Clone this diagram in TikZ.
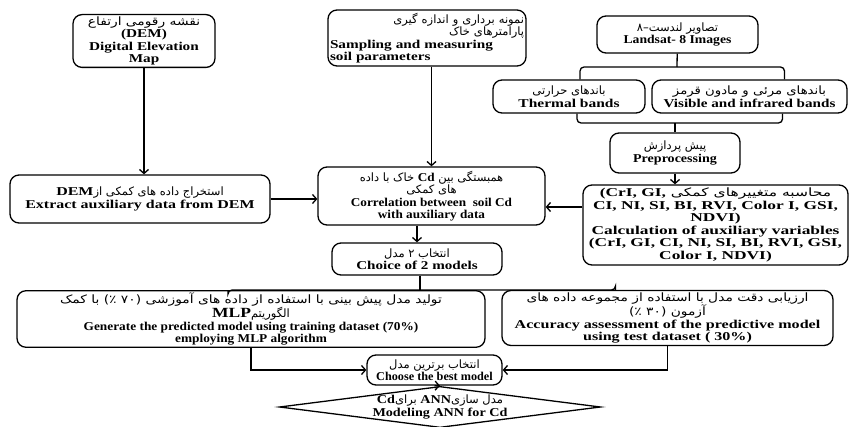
\documentclass[tikz,border=0pt]{standalone}
\usepackage{fontspec}
\setmainfont{Liberation Serif}
\newfontfamily\fa[Script=Arabic]{DejaVu Sans}
\TeXXeTstate=1
\usetikzlibrary{shapes.geometric,arrows.meta}
\newcommand\enw[2][1.25]{\beginL{\rmfamily\bfseries\fontsize{12}{12.5}\selectfont\addfontfeatures{FakeStretch=#1}#2}\endL}
\newcommand\fatext[2][1]{{\fa\mdseries\fontsize{11.5}{12.5}\selectfont\addfontfeatures{FakeStretch=#1}\beginR #2\endR}}
\begin{document}
\begin{tikzpicture}[x=1pt,y=-1pt,
  flowbox/.style={draw, line width=1.3pt, rounded corners=9pt, align=center, inner sep=2pt,
    font=\bfseries\fontsize{12}{12.5}\selectfont\addfontfeatures{FakeStretch=#1}},
  flowbox/.default=1.25,
  arr/.style={line width=1.3pt, -{Straight Barb[length=4pt,width=9pt]}},
  link/.style={line width=1.3pt, rounded corners=4pt}]

\useasboundingbox (0,0) rectangle (851,427);

\node[flowbox=1.27, minimum width=142pt, minimum height=52pt] (dem) at (144,41)
  {\fatext[1.2]{نقشه رقومی ارتفاع}\\(DEM)\\Digital Elevation\\Map};
\node[flowbox=1.27, text width=194pt, minimum height=56pt, align=left] (samp) at (427,38)
  {\makebox[\linewidth][r]{\fatext{نمونه برداری و اندازه گیری}}\\
   \makebox[\linewidth][r]{\fatext{پارامترهای خاک}}\\
   Sampling and measuring\\soil parameters};
\node[flowbox=1.14, minimum width=161pt, minimum height=37pt] (landsat) at (677.5,34.5)
  {\fatext{تصاویر لندست–۸}\\Landsat- 8 Images};
\node[flowbox=1.29, minimum width=152pt, minimum height=33pt] (thermal) at (569,96.5)
  {\fatext{باندهای حرارتی}\\Thermal bands};
\node[flowbox=1.26, minimum width=195pt, minimum height=33pt] (visible) at (749.5,96.5)
  {\fatext[1.15]{باندهای مرئی و مادون قرمز}\\Visible and infrared bands};
\node[flowbox=1.17, minimum width=130pt, minimum height=40pt] (prep) at (675,153)
  {\fatext{پیش پردازش}\\Preprocessing};
\node[flowbox=1.45, minimum width=265pt, minimum height=80pt] (calc) at (715.5,225)
  {\fatext[1.35]{محاسبه متغییرهای کمکی \enw[1.45]{(CrI, GI,}}\\CI, NI, SI, BI, RVI, Color I, GSI,\\NDVI)\\
   Calculation of auxiliary variables\\(CrI, GI, CI, NI, SI, BI, RVI, GSI,\\Color I, NDVI)};
\node[flowbox=1.33, minimum width=260pt, minimum height=48pt] (extract) at (140,199)
  {\fatext{استخراج داده های کمکی از\enw[1.33]{DEM}}\\Extract auxiliary data from DEM};
\node[flowbox=1.1, minimum width=227pt, minimum height=58pt] (corr) at (431.5,196)
  {\fatext{همبستگی بین \enw[1.1]{Cd} خاک با داده}\\\fatext{های کمکی}\\
   Correlation between~ soil Cd\\with auxiliary data};
\node[flowbox=1.26, minimum width=170pt, minimum height=32pt] (choice) at (417,259)
  {\fatext{انتخاب ۲ مدل}\\Choice of 2 models};
\node[flowbox=1.11, minimum width=468pt, minimum height=52pt] (mlp) at (251,319)
  {\fatext[1.2]{تولید مدل پیش بینی با استفاده از داده های آموزشی (۷۰ ٪) با کمک}\\
   \fatext{الگوریتم\enw[1.25]{\fontsize{14}{12.5}\selectfont MLP}}\\
   Generate the predicted model using training dataset (70\%)\\employing MLP algorithm};
\node[flowbox=1.34, minimum width=331pt, minimum height=50pt] (acc) at (667.5,318)
  {\fatext[1.2]{ارزیابی دقت مدل با استفاده از مجموعه داده های}\\\fatext[1.2]{آزمون (۳۰ ٪)}\\
   Accuracy assessment of the predictive model\\using test dataset ( 30\%)};
\node[flowbox=1.02, minimum width=135pt, minimum height=30pt] (best) at (434.5,370)
  {\fatext{انتخاب برترین مدل}\\Choose the best model};
\node[draw, diamond, line width=1.3pt, aspect=7.8, inner sep=0pt, minimum width=314pt,
  minimum height=40pt, align=center,
  font=\bfseries\fontsize{12}{12.5}\selectfont\addfontfeatures{FakeStretch=1.18}] (ann) at (440,407)
  {\fatext{مدل سازی\enw[1.18]{ANN} برای\enw[1.18]{Cd}}\\Modeling ANN for Cd};

\coordinate (topjoin) at (677,67);
\coordinate (botjoin) at (675,123);
\coordinate (midjoin) at (420,290);

\draw[link] (landsat) -- (topjoin);
\draw[link] ([xshift=11pt]thermal.north) |- (topjoin) -| ([xshift=35pt]visible.north);
\draw[link] ([xshift=8pt]thermal.south) |- (botjoin) -| ([xshift=33pt]visible.south);
\draw[link] (botjoin) -- (prep);
\draw[arr] (prep.south) -- (prep.south |- calc.north);
\draw[arr] (dem.south) -- (dem.south |- extract.north);
\draw[arr] (samp.south -| corr.north) -- (corr.north);
\draw[arr] (extract.east) -- (extract.east -| corr.west);
\draw[arr] ([yshift=-11pt]corr.east -| calc.west) -- ([yshift=-11pt]corr.east);
\draw[arr] (corr.south -| choice.north) -- (choice.north);
\draw[link] (choice.south -| midjoin) -- (midjoin);
\draw[link] ([xshift=-23pt]mlp.north) |- (midjoin) -| ([xshift=-52pt]acc.north);
\draw[arr] (mlp.south) |- (best.west);
\draw[arr] (acc.south) |- (best.east);
\draw[arr] (best.south) -- (ann.north);
\end{tikzpicture}
\end{document}
